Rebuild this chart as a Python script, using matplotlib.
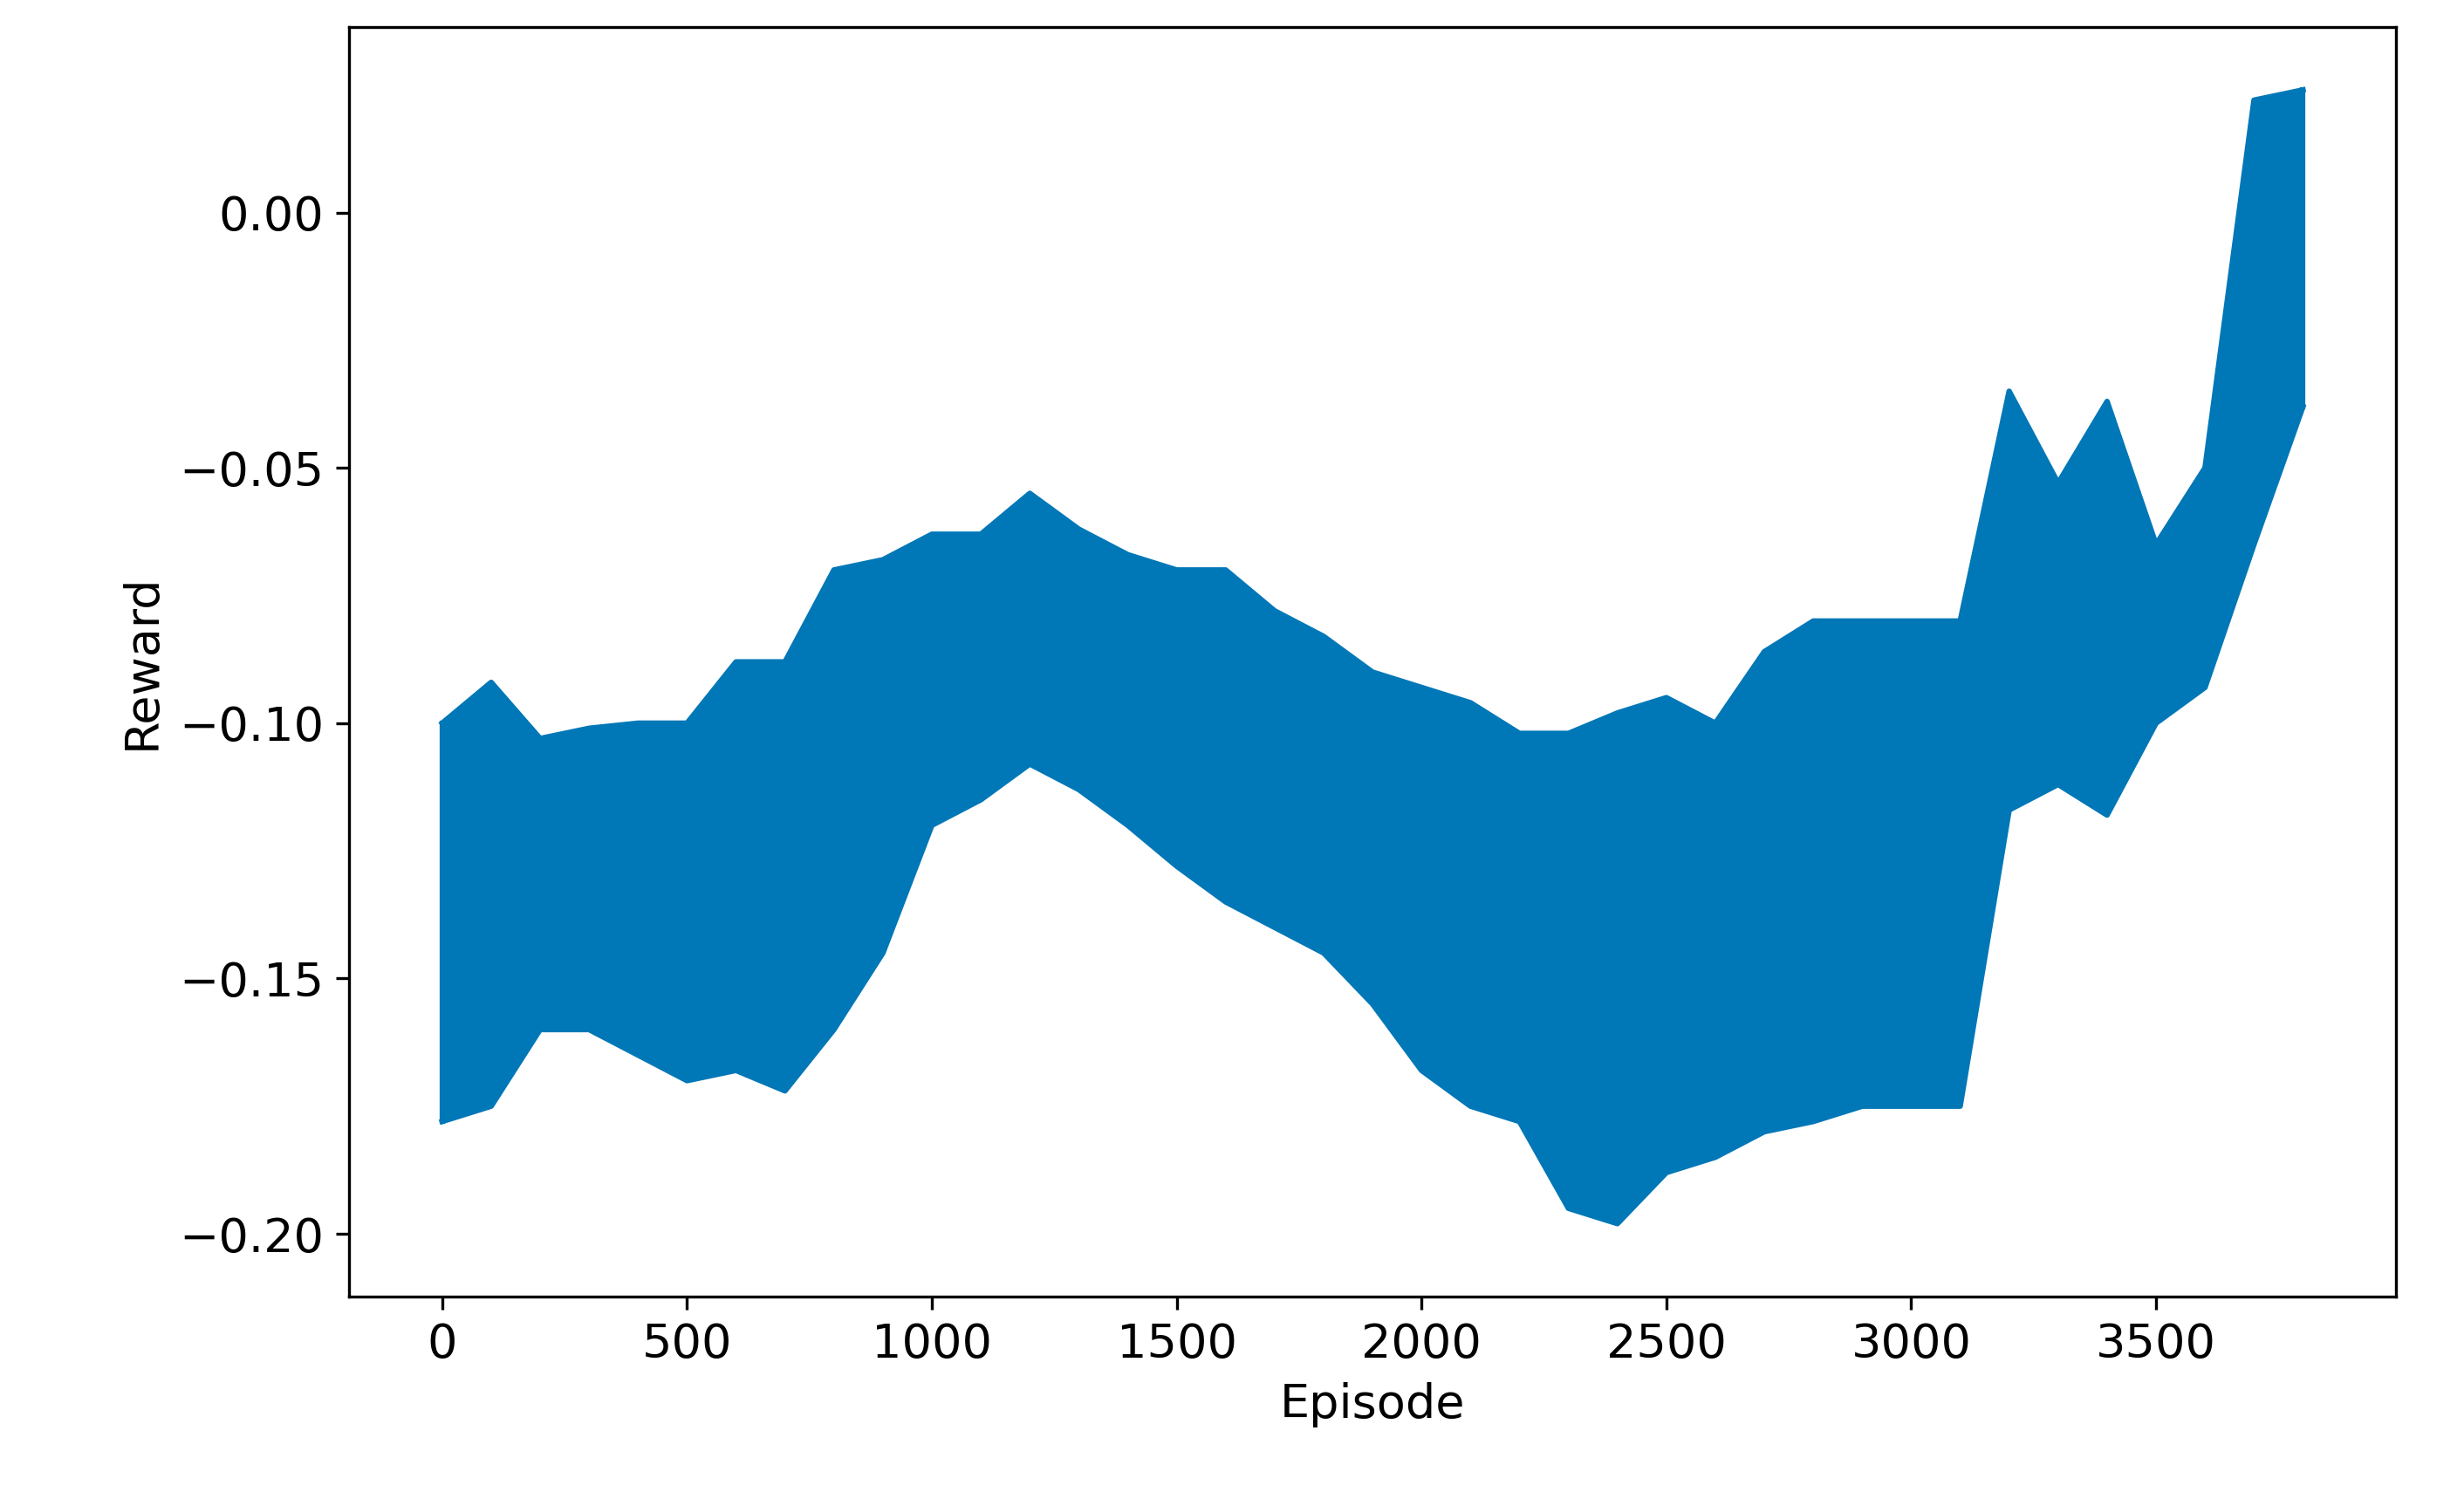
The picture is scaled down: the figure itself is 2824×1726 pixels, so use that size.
import numpy as np
import matplotlib
matplotlib.use("Agg")
import matplotlib.pyplot as plt

# Envelope of the reward trace, read every 100 episodes
episodes = list(range(0, 3900, 100))
reward_upper = [-0.100, -0.092, -0.103, -0.101, -0.100, -0.100, -0.088, -0.088, -0.070, -0.068,
                -0.063, -0.063, -0.055, -0.062, -0.067, -0.070, -0.070, -0.078, -0.083, -0.090,
                -0.093, -0.096, -0.102, -0.102, -0.098, -0.095, -0.100, -0.086, -0.080, -0.080,
                -0.080, -0.080, -0.035, -0.053, -0.037, -0.065, -0.050, 0.022, 0.024]
reward_lower = [-0.178, -0.175, -0.160, -0.160, -0.165, -0.170, -0.168, -0.172, -0.160, -0.145,
                -0.120, -0.115, -0.108, -0.113, -0.120, -0.128, -0.135, -0.140, -0.145, -0.155,
                -0.168, -0.175, -0.178, -0.195, -0.198, -0.188, -0.185, -0.180, -0.178, -0.175,
                -0.175, -0.175, -0.117, -0.112, -0.118, -0.100, -0.093, -0.065, -0.038]

C_LINE = "#0077b7"

fig = plt.figure(figsize=(2824 / 300, 1726 / 300), dpi=300)
ax = fig.add_axes([0.1417, 0.139, 0.8307, 0.843])

x = np.array(episodes)
ax.fill_between(x, reward_lower, reward_upper, color=C_LINE, lw=0)
ax.plot(x, reward_upper, color=C_LINE, lw=1.5)
ax.plot(x, reward_lower, color=C_LINE, lw=1.5)
ax.plot([0, 0], [reward_lower[0], reward_upper[0]], color=C_LINE, lw=1.5)
ax.plot([3800, 3800], [reward_lower[-1], reward_upper[-1]], color=C_LINE, lw=1.5)

ax.set_xlim(-190, 3990)
ax.set_ylim(-0.2123, 0.0363)
ax.set_xticks(range(0, 4000, 500))
ax.set_yticks([0.0, -0.05, -0.10, -0.15, -0.20])
ax.set_yticklabels(["0.00", "\u22120.05", "\u22120.10", "\u22120.15", "\u22120.20"])
ax.tick_params(labelsize=13)
ax.set_xlabel("Episode", fontsize=13)
ax.set_ylabel("Reward", fontsize=13)

fig.savefig("out.png", dpi=300)
